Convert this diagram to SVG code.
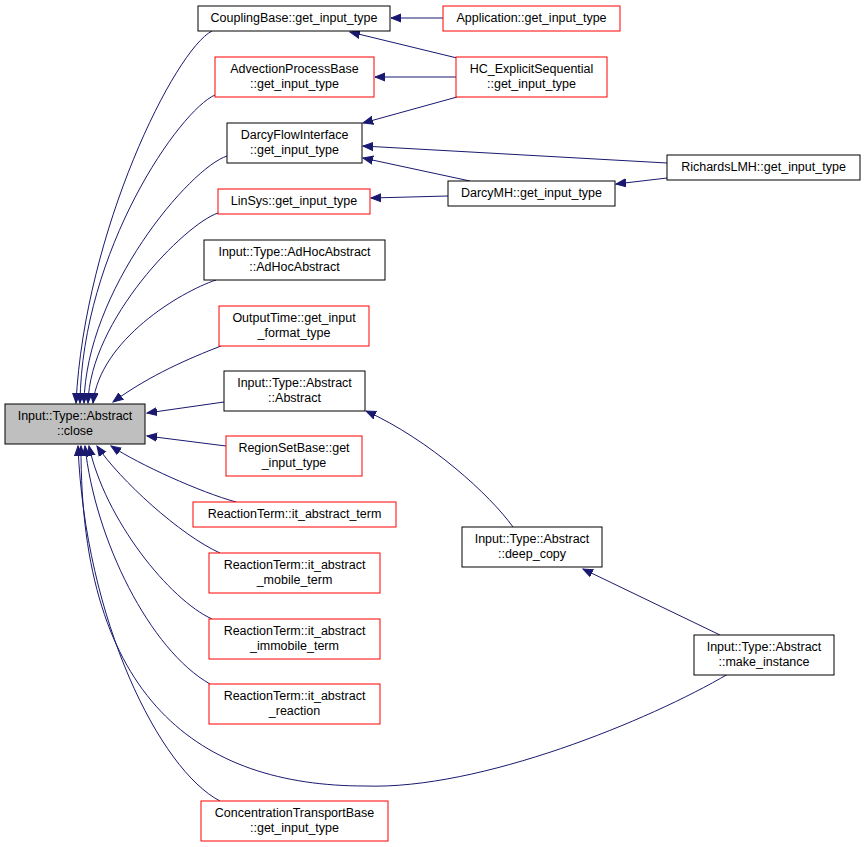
<svg xmlns="http://www.w3.org/2000/svg" width="865" height="847" viewBox="0 0 865 847">
<style>
.n rect{fill:#fff;stroke:#000;stroke-width:1}
.n.r rect{stroke:#ff0000}
.n.g rect{fill:#bfbfbf}
.n text{font-family:"Liberation Sans",Arial,sans-serif;font-size:12.5px;fill:#000;text-anchor:middle}
.e path{fill:none;stroke:#191970;stroke-width:1;marker-end:url(#a)}
</style>
<defs>
<marker id="a" markerUnits="userSpaceOnUse" markerWidth="12" markerHeight="10" refX="10" refY="4" orient="auto" viewBox="0 0 12 8">
<path d="M0,0 L10,4 L0,8 z" fill="#191970" stroke="#191970"/>
</marker>
</defs>
<rect width="865" height="847" fill="#fff"/>
<g class="e" id="edges">
<path d="M212,31 C175,50 85,230 76,403"/>
<path d="M215,95 C180,110 82,250 80,403"/>
<path d="M227,156 C190,168 86,290 84,403"/>
<path d="M218,213 C185,224 90,320 88,403"/>
<path d="M216,280 C180,292 100,340 93,403"/>
<path d="M221,346 C190,358 150,375 113,402"/>
<path d="M224,402 L147,413"/>
<path d="M226,446 L147,436"/>
<path d="M236,502 C200,492 140,465 111,446"/>
<path d="M220,553 C180,535 120,480 97,446"/>
<path d="M212,619 C170,600 105,520 89,446"/>
<path d="M210,684 C150,650 95,540 85,446"/>
<path d="M728,674 C650,720 480,790 365,786 C200,786 80,700 81,446"/>
<path d="M220,801 C160,770 85,620 78,446"/>
<path d="M443,18 L391,18"/>
<path d="M457,58 L350,32"/>
<path d="M456,77 L375,77"/>
<path d="M457,97 L363,123"/>
<path d="M667,163 L363,146"/>
<path d="M470,181 L363,158"/>
<path d="M448,196 L371,198"/>
<path d="M667,178 L616,184"/>
<path d="M513,527 C490,495 430,440 366,411"/>
<path d="M720,635 L583,569"/>
</g>
<g class="n g" id="close"><rect x="5" y="404" width="140" height="40"/><text x="75" y="420">Input::Type::Abstract</text><text x="75" y="434.5">::close</text></g>
<g class="n" id="coupling"><rect x="198" y="6" width="192" height="25"/><text x="294" y="22">CouplingBase::get_input_type</text></g>
<g class="n r" id="application"><rect x="443" y="6" width="177" height="25"/><text x="531.5" y="22">Application::get_input_type</text></g>
<g class="n r" id="advection"><rect x="215" y="57" width="159" height="40"/><text x="294.5" y="73">AdvectionProcessBase</text><text x="294.5" y="87.5">::get_input_type</text></g>
<g class="n r" id="hc"><rect x="456" y="57" width="151" height="40"/><text x="531.5" y="73">HC_ExplicitSequential</text><text x="531.5" y="87.5">::get_input_type</text></g>
<g class="n" id="darcyflow"><rect x="227" y="123" width="135" height="40"/><text x="294.5" y="139">DarcyFlowInterface</text><text x="294.5" y="153.5">::get_input_type</text></g>
<g class="n" id="richards"><rect x="667" y="155" width="193" height="25"/><text x="763.5" y="171">RichardsLMH::get_input_type</text></g>
<g class="n" id="darcymh"><rect x="448" y="181" width="167" height="25"/><text x="531.5" y="197">DarcyMH::get_input_type</text></g>
<g class="n r" id="linsys"><rect x="218" y="189" width="152" height="25"/><text x="294" y="205">LinSys::get_input_type</text></g>
<g class="n" id="adhoc"><rect x="204" y="240" width="181" height="40"/><text x="294.5" y="256">Input::Type::AdHocAbstract</text><text x="294.5" y="270.5">::AdHocAbstract</text></g>
<g class="n r" id="outputtime"><rect x="219" y="306" width="150" height="40"/><text x="294" y="322">OutputTime::get_input</text><text x="294" y="336.5">_format_type</text></g>
<g class="n" id="abstract"><rect x="224" y="371" width="141" height="40"/><text x="294.5" y="387">Input::Type::Abstract</text><text x="294.5" y="401.5">::Abstract</text></g>
<g class="n r" id="regionset"><rect x="226" y="436" width="136" height="40"/><text x="294" y="452">RegionSetBase::get</text><text x="294" y="466.5">_input_type</text></g>
<g class="n r" id="term"><rect x="193" y="502" width="203" height="25"/><text x="294.5" y="518">ReactionTerm::it_abstract_term</text></g>
<g class="n r" id="mobile"><rect x="209" y="553" width="171" height="40"/><text x="294.5" y="569">ReactionTerm::it_abstract</text><text x="294.5" y="583.5">_mobile_term</text></g>
<g class="n r" id="immobile"><rect x="209" y="619" width="171" height="40"/><text x="294.5" y="635">ReactionTerm::it_abstract</text><text x="294.5" y="649.5">_immobile_term</text></g>
<g class="n r" id="reaction"><rect x="209" y="684" width="171" height="40"/><text x="294.5" y="700">ReactionTerm::it_abstract</text><text x="294.5" y="714.5">_reaction</text></g>
<g class="n r" id="concentration"><rect x="201" y="801" width="187" height="40"/><text x="294.5" y="817">ConcentrationTransportBase</text><text x="294.5" y="831.5">::get_input_type</text></g>
<g class="n" id="deepcopy"><rect x="462" y="527" width="140" height="40"/><text x="532" y="543">Input::Type::Abstract</text><text x="532" y="557.5">::deep_copy</text></g>
<g class="n" id="makeinstance"><rect x="694" y="635" width="140" height="40"/><text x="764" y="651">Input::Type::Abstract</text><text x="764" y="665.5">::make_instance</text></g>
</svg>
